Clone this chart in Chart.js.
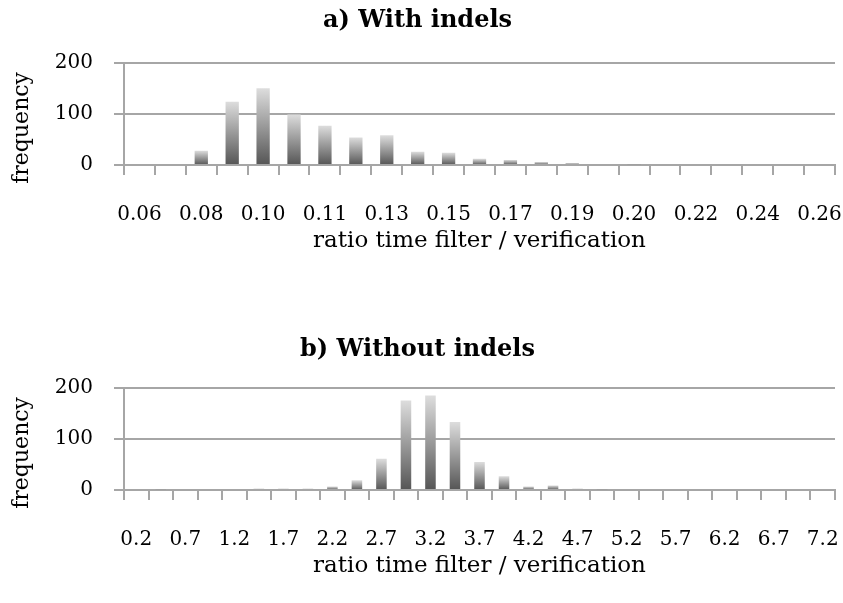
<!DOCTYPE html>
<html>
<head>
<meta charset="utf-8">
<script src="https://cdn.jsdelivr.net/npm/chart.js@4"></script>
<style>
  body { margin: 0; background: #fff; }
  .box { position: absolute; left: 0; width: 843px; height: 255px; }
  #boxOne { top: 0; }
  #boxTwo { top: 325px; }
</style>
</head>
<body>
<div class="box" id="boxOne"><canvas id="withIndels"></canvas></div>
<div class="box" id="boxTwo"><canvas id="withoutIndels"></canvas></div>
<script>
const ratioWith = ['0.06', '0.07', '0.08', '0.09', '0.10', '0.10', '0.11', '0.12', '0.13', '0.14', '0.15', '0.16',
    '0.17', '0.18', '0.19', '0.19', '0.20', '0.21', '0.22', '0.23', '0.24', '0.25', '0.26'];
const freqWith = [0, 0, 28, 124, 150, 99, 77, 54, 58, 26, 24, 12, 10, 6, 4, 2, 1, 2, 0, 0, 0, 0, 0];

const ratioWithout = ['0.2', '0.45', '0.7', '0.95', '1.2', '1.45', '1.7', '1.95', '2.2', '2.45', '2.7', '2.95',
    '3.2', '3.45', '3.7', '3.95', '4.2', '4.45', '4.7', '4.95', '5.2', '5.45', '5.7', '5.95', '6.2', '6.45',
    '6.7', '6.95', '7.2'];
const freqWithout = [0, 1, 0, 0, 0, 3, 3, 3, 7, 19, 61, 175, 185, 133, 55, 27, 7, 9, 3, 1, 0, 0, 0, 0, 0, 0, 0, 0, 0];

const yTicks = [0, 100, 200];

Chart.defaults.font.family = "'DejaVu Serif', serif";
Chart.defaults.color = '#000';

const lineGray = '#a6a6a6';

// each bar gets its own light-to-dark fade
function barFill(ctx) {
    const chart = ctx.chart;
    const yScale = chart.scales.y;
    if (ctx.type !== 'data' || !yScale) {
        return '#888';
    }
    const top = yScale.getPixelForValue(ctx.parsed.y);
    const base = yScale.getPixelForValue(0);
    if (!isFinite(top) || base - top < 1) {
        return '#999';
    }
    const grad = chart.ctx.createLinearGradient(0, top, 0, base);
    grad.addColorStop(0, '#dddddd');
    grad.addColorStop(1, '#555555');
    return grad;
}

function makeConfig(title, titleGap, labels, values) {
    return {
        type: 'bar',
        data: {
            labels: labels,
            datasets: [{
                data: values,
                backgroundColor: barFill,
                borderWidth: 0,
                barPercentage: 0.43,
                categoryPercentage: 1
            }]
        },
        options: {
            responsive: true,
            maintainAspectRatio: false,
            animation: false,
            layout: { padding: { left: 0, right: 8, top: 0, bottom: 0 } },
            plugins: {
                legend: { display: false },
                tooltip: { enabled: false },
                title: {
                    display: true,
                    text: title,
                    font: { size: 24, weight: 'bold' },
                    padding: { top: titleGap, bottom: 34 - titleGap }
                }
            },
            scales: {
                x: {
                    afterFit: (scale) => { scale.height = 90; },
                    grid: {
                        display: true,
                        drawOnChartArea: false,
                        drawTicks: true,
                        tickLength: 10,
                        color: lineGray,
                        lineWidth: 2
                    },
                    border: { display: true, color: lineGray, width: 2 },
                    ticks: {
                        autoSkip: false,
                        maxRotation: 0,
                        padding: 0,
                        // tall line box pushes the labels down, away from the tick marks
                        font: { size: 20, lineHeight: 4 },
                        callback: function (value, index) {
                            return index % 2 === 0 ? this.getLabelForValue(value) : '';
                        }
                    },
                    title: {
                        display: true,
                        text: 'ratio time filter / verification',
                        font: { size: 23 },
                        padding: { top: 0, bottom: 0 }
                    }
                },
                y: {
                    min: yTicks[0],
                    max: yTicks[yTicks.length - 1],
                    afterFit: (scale) => { scale.width = 124; },
                    afterBuildTicks: (scale) => { scale.ticks = yTicks.map(v => ({ value: v })); },
                    grid: {
                        color: lineGray,
                        lineWidth: 2,
                        tickLength: 10
                    },
                    border: { display: true, color: lineGray, width: 2 },
                    ticks: {
                        padding: 21,
                        font: { size: 20 }
                    },
                    title: {
                        display: true,
                        text: 'frequency    ',
                        font: { size: 22 },
                        padding: { top: 9, bottom: 0 }
                    }
                }
            }
        }
    };
}

const chartOne = new Chart(
    document.getElementById('withIndels'),
    makeConfig('a) With indels', 6, ratioWith, freqWith)
);

const chartTwo = new Chart(
    document.getElementById('withoutIndels'),
    makeConfig('b) Without indels', 10, ratioWithout, freqWithout)
);
</script>
</body>
</html>
